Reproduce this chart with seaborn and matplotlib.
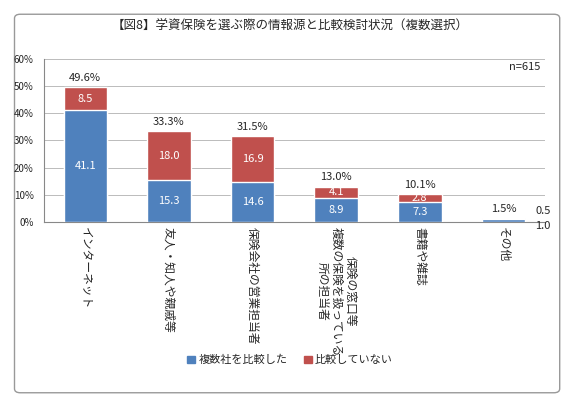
import seaborn as sns
import matplotlib.pyplot as plt
from matplotlib.patches import FancyBboxPatch, Patch
import pandas as pd

sns.set_style("white")
plt.rcParams['font.family'] = ['Noto Sans CJK JP', 'DejaVu Sans']

categories = ["インターネット", "友人・知人や親戚等", "保険会社の営業担当者",
              "保険の窓口等\n複数の保険を扱っている\n所の担当者", "書籍や雑誌", "その他"]
compared = [41.1, 15.3, 14.6, 8.9, 7.3, 1.0]
not_compared = [8.5, 18.0, 16.9, 4.1, 2.8, 0.5]
totals = [49.6, 33.3, 31.5, 13.0, 10.1, 1.5]

df = pd.DataFrame({"cat": categories, "blue": compared, "total": totals})

fig = plt.figure(figsize=(5.8, 4.07), dpi=100)
fig.patches.append(FancyBboxPatch((0.025, 0.035), 0.94, 0.93, boxstyle="round,pad=0,rounding_size=0.01",
                                  transform=fig.transFigure, fill=False, ec="#999999", lw=1, zorder=-1))
ax = fig.add_axes([0.075, 0.455, 0.865, 0.4])
blue, red = "#4F81BD", "#C0504D"
sns.barplot(data=df, x="cat", y="total", color=red, width=0.52, ax=ax, saturation=1, zorder=3)
sns.barplot(data=df, x="cat", y="blue", color=blue, width=0.52, ax=ax, saturation=1, zorder=3)

for i, (b, r, t) in enumerate(zip(compared, not_compared, totals)):
    if i < 5:
        ax.text(i, b / 2, f"{b:.1f}", ha="center", va="center", color="white", fontsize=8, zorder=4)
        ax.text(i, b + r / 2, f"{r:.1f}", ha="center", va="center", color="white", fontsize=8, zorder=4)
    else:
        ax.text(i + 0.38, -1.5, f"{b:.1f}", ha="left", va="center", fontsize=8)
        ax.text(i + 0.38, 4, f"{r:.1f}", ha="left", va="center", fontsize=8)
    ax.text(i, t + 1.5, f"{t:.1f}%", ha="center", va="bottom", fontsize=8)

ax.set_ylim(0, 60)
ax.set_yticks(range(0, 61, 10))
ax.set_yticklabels([f"{v}%" for v in range(0, 61, 10)], fontsize=7)
ax.yaxis.grid(True, color="#bbbbbb", lw=0.7)
ax.set_axisbelow(True)
ax.set_xlabel("")
ax.set_ylabel("")
ax.set_xticks(range(len(categories)))
ax.set_xticklabels(categories, rotation=-90, ha="center", va="top", fontsize=8.5, linespacing=1.1)
ax.tick_params(axis="x", length=0)
for s in ["top", "right"]:
    ax.spines[s].set_visible(False)
for s in ["left", "bottom"]:
    ax.spines[s].set_color("#888888")
ax.text(0.99, 0.93, "n=615", transform=ax.transAxes, ha="right", fontsize=8)

fig.text(0.5, 0.935, "【図8】学資保険を選ぶ際の情報源と比較検討状況（複数選択）", ha="center", va="center", fontsize=9)

fig.legend(handles=[Patch(color=blue, label="複数社を比較した"), Patch(color=red, label="比較していない")],
           loc="center", bbox_to_anchor=(0.5, 0.115), ncol=2, frameon=False, fontsize=8,
           handlelength=0.7, handleheight=0.7, columnspacing=1.5, handletextpad=0.3)

fig.savefig("out.png", dpi=100)
